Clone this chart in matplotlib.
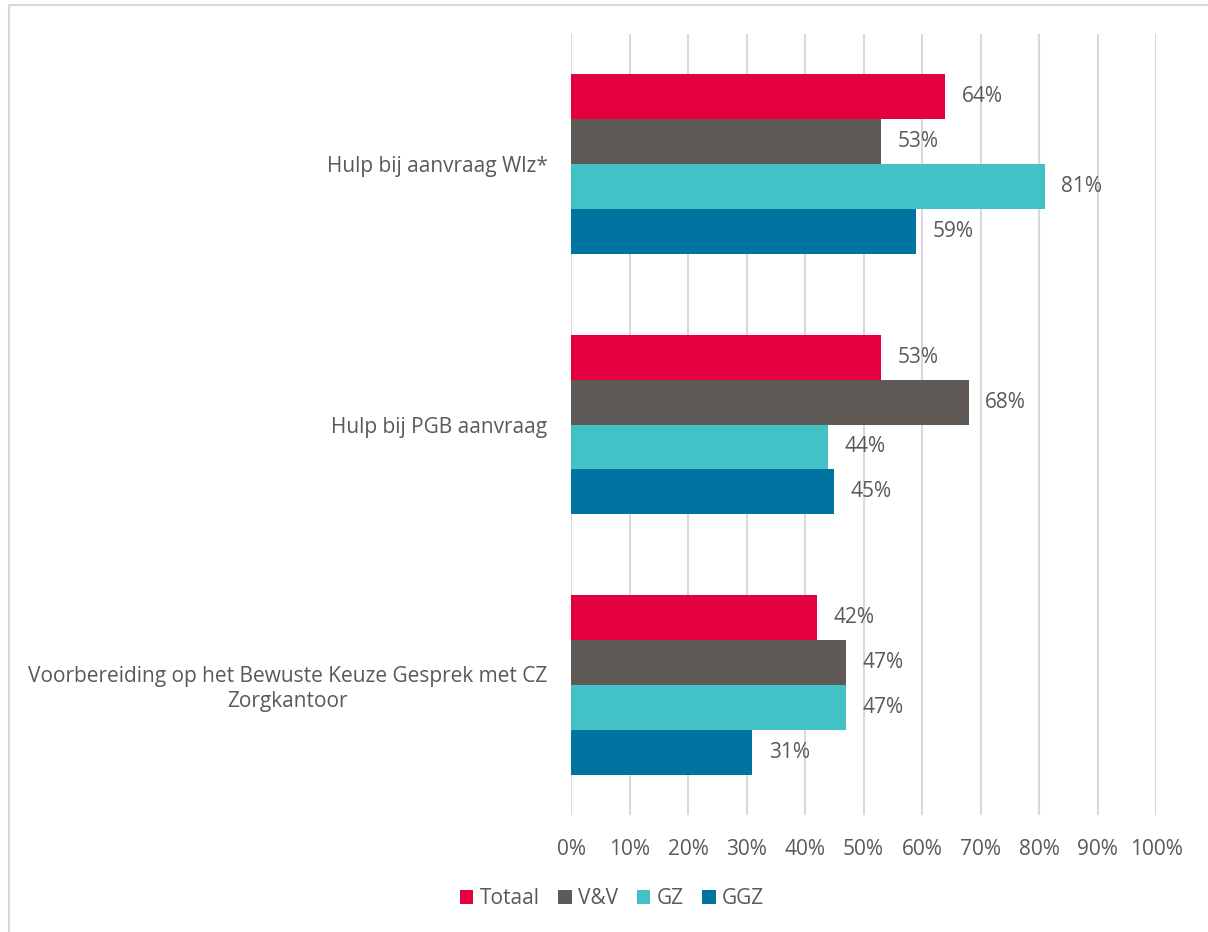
import matplotlib.pyplot as plt
import numpy as np
from matplotlib.patches import Rectangle

plt.rcParams['font.family'] = ['Open Sans', 'DejaVu Sans']

# 数据
categories = ['Hulp bij aanvraag Wlz*',
              'Hulp bij PGB aanvraag',
              'Voorbereiding op het Bewuste Keuze Gesprek met CZ\nZorgkantoor']
series = ['Totaal', 'V&V', 'GZ', 'GGZ']
totaal = [64, 53, 42]
vv = [53, 68, 47]
gz = [81, 44, 47]
ggz = [59, 45, 31]
colors = ['#E4003F', '#5F5A56', '#42C2C6', '#0074A0']

text_color = '#595959'
fs = 15
fig = plt.figure(figsize=(12.08, 9.32), dpi=100)
ax = fig.add_axes([571 / 1208, 1 - 815 / 932, 585 / 1208, (815 - 34) / 932])

bar_h = 0.1727
y = np.arange(len(categories))
values = [totaal, vv, gz, ggz]
for i, (name, vals, c) in enumerate(zip(series, values, colors)):
    pos = y + (i - 1.5) * bar_h
    ax.barh(pos, vals, height=bar_h, color=c, label=name, zorder=2)
    for p, v in zip(pos, vals):
        ax.text(v + 2.8, p, f'{v}%', va='center', ha='left',
                fontsize=fs, color=text_color)

ax.set_ylim(len(categories) - 0.5, -0.5)
ax.set_xlim(0, 100)
ax.set_xticks(np.arange(0, 101, 10))
ax.set_xticklabels([f'{t}%' for t in range(0, 101, 10)])
ax.set_yticks(y)
ax.set_yticklabels(categories, multialignment='center')
ax.tick_params(axis='both', length=0, labelsize=fs, colors=text_color)
ax.tick_params(axis='x', pad=17)
ax.tick_params(axis='y', pad=17)
ax.grid(axis='x', color='#D9D9D9', linewidth=1.5, zorder=0)
for s in ax.spines.values():
    s.set_visible(False)

fig.legend(loc='center', bbox_to_anchor=(612 / 1208, 1 - 899 / 932), ncol=4,
           frameon=False, fontsize=fs, labelcolor=text_color,
           handlelength=0.65, handleheight=0.65, handletextpad=0.3,
           columnspacing=0.9)

# 外框
fig.patches.append(Rectangle((8.5 / 1208, -0.1), 1.2, 1 - 4.5 / 932 + 0.1,
                             transform=fig.transFigure, fill=False,
                             edgecolor='#D9D9D9', linewidth=1.5))

fig.savefig('out.png', dpi=100)
